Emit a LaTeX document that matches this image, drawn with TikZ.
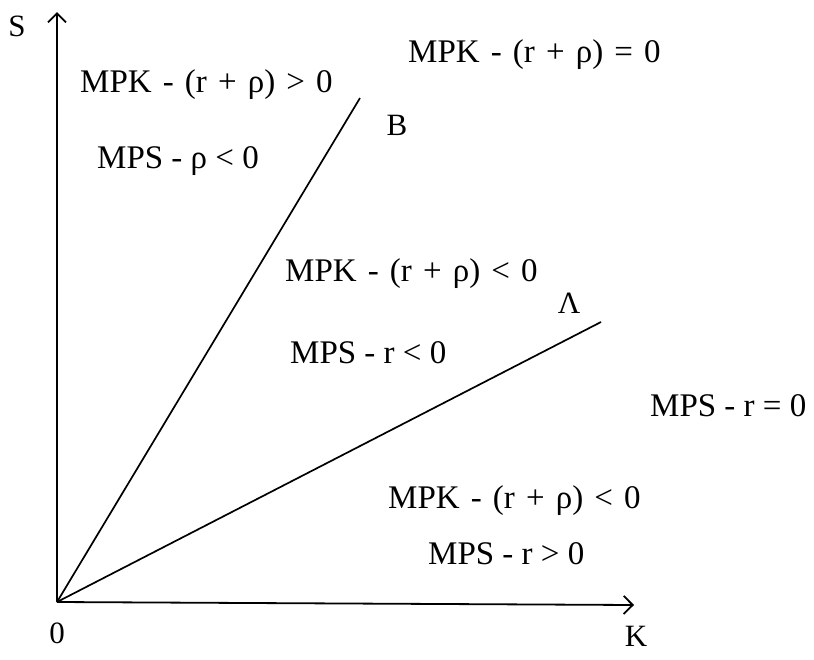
\documentclass[tikz,border=0pt]{standalone}
\usepackage{fontspec}
\setmainfont{Liberation Serif}
\newfontfamily\widesp[WordSpace=1.35]{Liberation Serif}
\usetikzlibrary{arrows.meta}
\begin{document}
\begin{tikzpicture}[x=1pt,y=-1pt,
  lbl/.style={anchor=base west,inner sep=0pt,font=\fontsize{33}{36}\selectfont},
  mpk/.style={anchor=base west,inner sep=0pt,font=\widesp\fontsize{33}{36}\selectfont},
  axlbl/.style={anchor=base,inner sep=0pt,font=\fontsize{31}{34}\selectfont},
  axis/.style={line width=1.8pt,-{Straight Barb[length=9pt,width=18pt,line width=1.8pt]}},
  ray/.style={line width=1.7pt}]
\useasboundingbox (0,0) rectangle (814,659);
\coordinate (O) at (57,602);
\coordinate (Stop) at (57,12);
\coordinate (Kend) at (634,605);
\coordinate (Bend) at (360,98);
\coordinate (Aend) at (601,322);
\draw[axis] (O) -- (Stop);
\draw[axis] (O) -- (Kend);
\draw[ray] (O) -- (Bend);
\draw[ray] (O) -- (Aend);
\node[axlbl] (S) at (17,36) {S};
\node[axlbl] (zero) at (57,643) {0};
\node[axlbl] (K) at (636,646) {K};
\node[axlbl] (B) at (397,135) {B};
\node[axlbl] (A) at (569,313) {Λ};
\node[mpk] (t1) at (80,92) {MPK - (r + ρ) > 0};
\node[mpk] (t2) at (408,62) {MPK - (r + ρ) = 0};
\node[lbl] (t3) at (97,168) {MPS - ρ < 0};
\node[mpk] (t4) at (285,281) {MPK - (r + ρ) < 0};
\node[lbl] (t5) at (290,363) {MPS - r < 0};
\node[lbl] (t6) at (650,416) {MPS - r = 0};
\node[mpk] (t7) at (388,508) {MPK - (r + ρ) < 0};
\node[lbl] (t8) at (428,564) {MPS - r > 0};
\end{tikzpicture}
\end{document}
